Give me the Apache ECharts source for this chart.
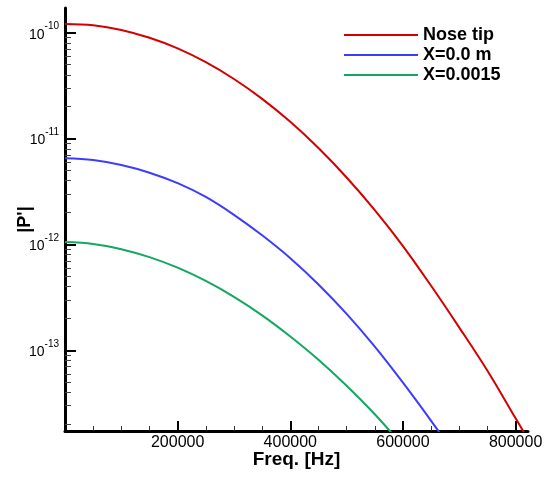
<!DOCTYPE html>
<html>
<head>
<meta charset="utf-8">
<title>|P'| spectrum</title>
<script src="https://cdn.jsdelivr.net/npm/echarts@6/dist/echarts.min.js"></script>
<style>
    html, body { margin: 0; padding: 0; background: #fff; }
    #main { width: 545px; height: 478px; }
</style>
</head>
<body>
<div id="main"></div>
<script>
// frequency samples [Hz]
const freqList = [0, 50000, 100000, 150000, 200000, 250000, 300000, 350000, 400000,
    450000, 500000, 550000, 600000, 650000, 700000, 750000, 800000, 850000];
// |P'|
const noseTip = [1.208e-10, 1.175e-10, 1.062e-10, 8.95e-11, 7.11e-11, 5.26e-11, 3.65e-11, 2.37e-11, 1.439e-11,
    8.13e-12, 4.29e-12, 2.11e-12, 9.66e-13, 4.07e-13, 1.64e-13, 6.41e-14, 2.28e-14, 8.1e-15];
const xZero = [6.53e-12, 6.27e-12, 5.62e-12, 4.76e-12, 3.79e-12, 2.81e-12, 1.905e-12, 1.219e-12, 7.41e-13,
    4.19e-13, 2.21e-13, 1.084e-13, 4.95e-14, 2.16e-14, 9.1e-15];
const xPoint0015 = [1.054e-12, 1.012e-12, 9.02e-13, 7.59e-13, 6.03e-13, 4.52e-13, 3.20e-13, 2.14e-13, 1.352e-13,
    8.15e-14, 4.63e-14, 2.49e-14, 1.25e-14];
const seriesNames = ['Nose tip', 'X=0.0 m', 'X=0.0015'];
const colorList = ['#d40000', '#3c3cff', '#12a862'];

// axis ticks
const xMajorTicks = [200000, 400000, 600000, 800000];
const xMinorTicks = [50000, 100000, 150000, 250000, 300000, 350000, 450000, 500000, 550000, 650000, 700000, 750000];
const yMajorTicks = [1e-13, 1e-12, 1e-11, 1e-10];
const xMin = 0, xMax = 822000;
const yMin = 1.73e-14, yMax = 1.71e-10;

// minor log ticks 2..9 in each decade
const yMinorTicks = [];
[-14, -13, -12, -11, -10].forEach(function (p) {
    for (let m = 2; m <= 9; m++) {
        const v = m * Math.pow(10, p);
        if (v > yMin && v < yMax) yMinorTicks.push(v);
    }
});

const FONT = 'Liberation Sans, Arial, sans-serif';

const pairs = function (ys) {
    return ys.map(function (y, i) { return [freqList[i], y]; });
};
const dataList = [noseTip, xZero, xPoint0015];

let chartDom = document.getElementById('main');
let myChart = echarts.init(chartDom, null, { renderer: 'canvas' });

let option = {
    animation: false,
    backgroundColor: '#fff',
    grid: { left: 65, right: 17, top: 8, bottom: 47, containLabel: false, outerBoundsMode: 'none' },
    legend: {
        orient: 'vertical',
        left: 344,
        top: 26,
        padding: 0,
        itemWidth: 74,
        itemHeight: 2,
        itemGap: 2,
        icon: 'rect',
        textStyle: { fontFamily: FONT, fontSize: 18, fontWeight: 'bold', color: '#000', lineHeight: 18 },
        data: seriesNames
    },
    xAxis: [{
        type: 'value',
        min: xMin,
        max: xMax,
        position: 'bottom',
        name: 'Freq. [Hz]',
        nameLocation: 'middle',
        nameGap: 19,
        nameMoveOverlap: false,
        nameTextStyle: { fontFamily: FONT, fontSize: 19, fontWeight: 'bold', color: '#000' },
        axisLine: { lineStyle: { color: '#000', width: 3 } },
        axisTick: { inside: true, length: 10, lineStyle: { color: '#000', width: 2 }, customValues: xMajorTicks },
        axisLabel: {
            fontFamily: FONT, fontSize: 16, color: '#000', margin: 4,
            customValues: xMajorTicks,
            formatter: function (v) { return String(v); }
        },
        splitLine: { show: false }
    }, {
        // minor ticks only
        type: 'value',
        min: xMin,
        max: xMax,
        position: 'bottom',
        axisLine: { show: false },
        axisTick: { show: true, inside: true, length: 5, lineStyle: { color: '#333', width: 1 }, customValues: xMinorTicks },
        axisLabel: { show: false },
        splitLine: { show: false }
    }],
    yAxis: [{
        type: 'log',
        logBase: 10,
        min: yMin,
        max: yMax,
        position: 'left',
        name: "|P'|",
        nameLocation: 'middle',
        nameGap: 31,
        nameMoveOverlap: false,
        nameTextStyle: { fontFamily: FONT, fontSize: 18, fontWeight: 'bold', color: '#000' },
        axisLine: { lineStyle: { color: '#000', width: 3 } },
        axisTick: { inside: true, length: 11, lineStyle: { color: '#000', width: 2 }, customValues: yMajorTicks },
        axisLabel: {
            margin: 6,
            customValues: yMajorTicks,
            formatter: function (v) {
                return '{b|10}{s|' + Math.round(Math.log10(v)) + '}';
            },
            rich: {
                b: { fontFamily: FONT, fontSize: 14, color: '#000', lineHeight: 22, padding: [4, 0, 0, 0] },
                s: { fontFamily: FONT, fontSize: 10, color: '#000', verticalAlign: 'top', lineHeight: 10 }
            }
        },
        splitLine: { show: false }
    }, {
        // minor ticks only
        type: 'log',
        logBase: 10,
        min: yMin,
        max: yMax,
        position: 'left',
        axisLine: { show: false },
        axisTick: { show: true, inside: true, length: 6, lineStyle: { color: '#444', width: 1 }, customValues: yMinorTicks },
        axisLabel: { show: false },
        splitLine: { show: false }
    }],
    series: dataList.map(function (ys, index) {
        // last curve sits on the twin axes (same range) so they get drawn too
        const twin = index === 2 ? 1 : 0;
        return {
            name: seriesNames[index],
            type: 'line',
            xAxisIndex: twin,
            yAxisIndex: twin,
            data: pairs(ys),
            showSymbol: false,
            symbol: 'none',
            smooth: 0.35,
            clip: true,
            lineStyle: { color: colorList[index], width: 2 },
            itemStyle: { color: colorList[index] }
        };
    })
};

option && myChart.setOption(option);
</script>
</body>
</html>
